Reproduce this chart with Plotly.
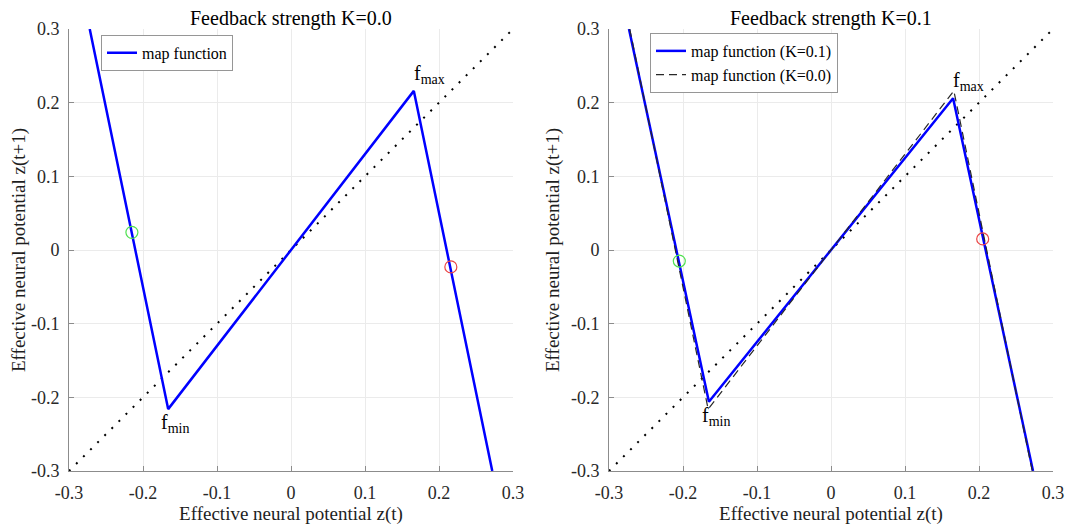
import plotly.graph_objects as go

# ---- data ----
map0_z = [-0.272, -0.166, 0.166, 0.272]
map0_f = [0.300, -0.216, 0.216, -0.300]
map1_z = [-0.273, -0.165, 0.165, 0.273]
map1_f = [0.300, -0.206, 0.206, -0.300]
diag = [-0.3, 0.3]
fix0_green = (-0.215, 0.024)
fix0_red = (0.216, -0.023)
fix1_green = (-0.205, -0.015)
fix1_red = (0.205, 0.015)
ticks = [-0.3, -0.2, -0.1, 0, 0.1, 0.2, 0.3]
tick_text = ["-0.3", "-0.2", "-0.1", "0", "0.1", "0.2", "0.3"]

FONT = "Liberation Serif"
BLUE = "#0000ff"
fig = go.Figure()

def add_panel(xa, ya, traces):
    for t in traces:
        t.update(xaxis=xa, yaxis=ya)
        fig.add_trace(t)

# Left panel
add_panel("x", "y", [
    go.Scatter(x=diag, y=diag, mode="lines", line=dict(color="black", width=2, dash="2px,8px"),
               showlegend=False, hoverinfo="skip"),
    go.Scatter(x=map0_z, y=map0_f, mode="lines", line=dict(color=BLUE, width=2.5),
               name="map function", legend="legend"),
    go.Scatter(x=[fix0_green[0]], y=[fix0_green[1]], mode="markers",
               marker=dict(symbol="circle-open", size=12, color="rgb(80,225,80)", line=dict(width=1.2)),
               showlegend=False),
    go.Scatter(x=[fix0_red[0]], y=[fix0_red[1]], mode="markers",
               marker=dict(symbol="circle-open", size=12, color="rgb(235,70,70)", line=dict(width=1.2)),
               showlegend=False),
])

# Right panel
add_panel("x2", "y2", [
    go.Scatter(x=diag, y=diag, mode="lines", line=dict(color="black", width=2, dash="2px,8px"),
               showlegend=False, hoverinfo="skip"),
    go.Scatter(x=map1_z, y=map1_f, mode="lines", line=dict(color=BLUE, width=2.5),
               name="map function (K=0.1)", legend="legend2"),
    go.Scatter(x=map0_z, y=map0_f, mode="lines", line=dict(color="rgb(40,40,40)", width=1.2, dash="8px,5px"),
               name="map function (K=0.0)", legend="legend2"),
    go.Scatter(x=[fix1_green[0]], y=[fix1_green[1]], mode="markers",
               marker=dict(symbol="circle-open", size=12, color="rgb(80,225,80)", line=dict(width=1.2)),
               showlegend=False),
    go.Scatter(x=[fix1_red[0]], y=[fix1_red[1]], mode="markers",
               marker=dict(symbol="circle-open", size=12, color="rgb(235,70,70)", line=dict(width=1.2)),
               showlegend=False),
])

axis_common = dict(
    range=[-0.3, 0.3], tickvals=ticks, ticktext=tick_text,
    showgrid=True, gridcolor="rgb(235,235,235)", gridwidth=1,
    zeroline=False, showline=True, linecolor="rgb(140,140,140)", linewidth=1,
    ticks="inside", ticklen=5, tickcolor="rgb(140,140,140)",
    tickfont=dict(family=FONT, size=18, color="rgb(40,40,40)"),
    mirror=False, automargin=False,
)
xl = (513 - 69) / 984
xr = (609 - 69) / 984

fig.update_layout(
    width=1075, height=519,
    margin=dict(l=61, r=30, t=21, b=56),
    paper_bgcolor="white", plot_bgcolor="white",
    font=dict(family=FONT, size=17, color="rgb(30,30,30)"),
    xaxis=dict(axis_common, domain=[0, xl], anchor="y", ticklabelstandoff=5,
               title=dict(text="Effective neural potential z(t)", font=dict(size=19), standoff=2)),
    yaxis=dict(axis_common, domain=[0, 1], anchor="x", ticklabelstandoff=5,
               title=dict(text="Effective neural potential z(t+1)", font=dict(size=19), standoff=6)),
    xaxis2=dict(axis_common, domain=[xr, 1], anchor="y2", ticklabelstandoff=5,
                title=dict(text="Effective neural potential z(t)", font=dict(size=19), standoff=2)),
    yaxis2=dict(axis_common, domain=[0, 1], anchor="x2", ticklabelstandoff=5,
                title=dict(text="Effective neural potential z(t+1)", font=dict(size=19), standoff=6)),
    legend=dict(x=(101 - 69) / 984, y=0.987, xanchor="left", yanchor="top",
                bgcolor="white", bordercolor="rgb(150,150,150)", borderwidth=1,
                font=dict(family=FONT, size=16, color="black"), itemwidth=30,
                tracegroupgap=0),
    legend2=dict(x=(650 - 69) / 984, y=0.991, xanchor="left", yanchor="top",
                 bgcolor="white", bordercolor="rgb(150,150,150)", borderwidth=1,
                 font=dict(family=FONT, size=16, color="black"), itemwidth=30,
                 tracegroupgap=0),
    showlegend=True,
)

titles = [("Feedback strength K=0.0", xl / 2), ("Feedback strength K=0.1", (xr + 1) / 2)]
for text, xc in titles:
    fig.add_annotation(text=text, x=xc, y=1.0, xref="paper", yref="paper",
                       xanchor="center", yanchor="bottom", showarrow=False, yshift=-3,
                       font=dict(family=FONT, size=20, color="black"))

for xa, ya, mz, mf in [("x", "y", map0_z, map0_f), ("x2", "y2", map1_z, map1_f)]:
    fig.add_annotation(text="f<sub>max</sub>", x=mz[2], y=mf[2], xref=xa, yref=ya,
                       xanchor="left", yanchor="bottom", showarrow=False, xshift=-2, yshift=2,
                       font=dict(family=FONT, size=20, color="black"))
    fig.add_annotation(text="f<sub>min</sub>", x=mz[1], y=mf[1], xref=xa, yref=ya,
                       xanchor="left", yanchor="top", showarrow=False, xshift=-9, yshift=0,
                       font=dict(family=FONT, size=20, color="black"))

fig.write_html("out.html")
